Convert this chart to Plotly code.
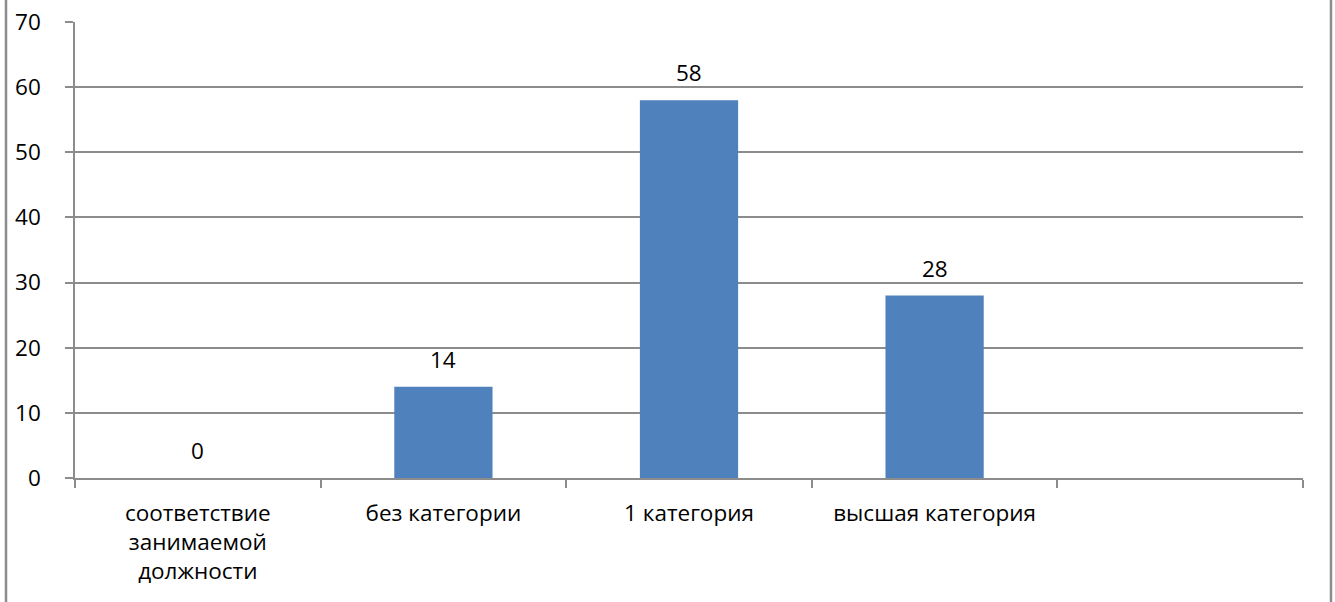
import plotly.graph_objects as go

categories = ["соответствие занимаемой должности", "без категории", "1 категория", "высшая категория", ""]
tick_labels = ["соответствие<br>занимаемой<br>должности", "без категории", "1 категория", "высшая категория", ""]
values = [0, 14, 58, 28, None]
y_ticks = [0, 10, 20, 30, 40, 50, 60, 70]

FONT = "Open Sans"
FS = 22.5
GRID = "#8c8c8c"
BAR = "#4f81bd"

cat_ids = ["c%d" % i for i in range(len(categories))]

fig = go.Figure()
fig.add_trace(go.Bar(
    x=cat_ids, y=values, width=0.4,
    marker=dict(color=BAR, line=dict(width=0)),
    hoverinfo="skip",
))

for cid, v in zip(cat_ids, values):
    if v is None:
        continue
    fig.add_annotation(x=cid, y=v, xref="x", yref="y", text=str(v), showarrow=False,
                       yanchor="bottom", yshift=10,
                       font=dict(family=FONT, size=FS, color="#000000"))

W, H = 1335, 602
ml, mr, mt, mb = 75, 32, 22, 124
pw = W - ml - mr
ph = H - mt - mb

fig.add_shape(type="rect", xref="paper", yref="paper",
              x0=(6 - ml) / pw, x1=(1331 - ml) / pw, y0=-0.5, y1=1.5,
              line=dict(color="#8c8c8c", width=2.5), fillcolor="rgba(0,0,0,0)", layer="above")

fig.update_layout(
    width=W, height=H,
    margin=dict(l=ml, r=mr, t=mt, b=mb, autoexpand=False),
    paper_bgcolor="white", plot_bgcolor="white",
    showlegend=False,
    font=dict(family=FONT, size=FS, color="#000000"),
)
fig.update_xaxes(
    type="category", categoryorder="array", categoryarray=cat_ids,
    tickmode="array", tickvals=cat_ids, ticktext=tick_labels,
    tickson="boundaries", ticks="outside", ticklen=8, tickcolor=GRID, tickwidth=1.5,
    showline=True, linecolor=GRID, linewidth=1.5,
    showgrid=False, tickfont=dict(family=FONT, size=FS, color="#000000"),
    range=[-0.5, 4.5], automargin=False, ticklabelstandoff=14,
)
fig.update_yaxes(
    range=[0, 70], tickmode="array", tickvals=y_ticks,
    ticks="outside", ticklen=8, tickcolor=GRID, tickwidth=1.5,
    showline=True, linecolor=GRID, linewidth=1.5,
    showgrid=True, gridcolor=GRID, gridwidth=1.5, zeroline=False,
    tickfont=dict(family=FONT, size=FS, color="#000000"),
    ticklabelstandoff=20, automargin=False,
)

fig.write_html("out.html", config={"displayModeBar": False},
               post_script="document.documentElement.style.overflow='hidden';"
                           "document.body.style.margin='0';document.body.style.padding='0';"
                           "document.body.style.overflow='hidden';")
